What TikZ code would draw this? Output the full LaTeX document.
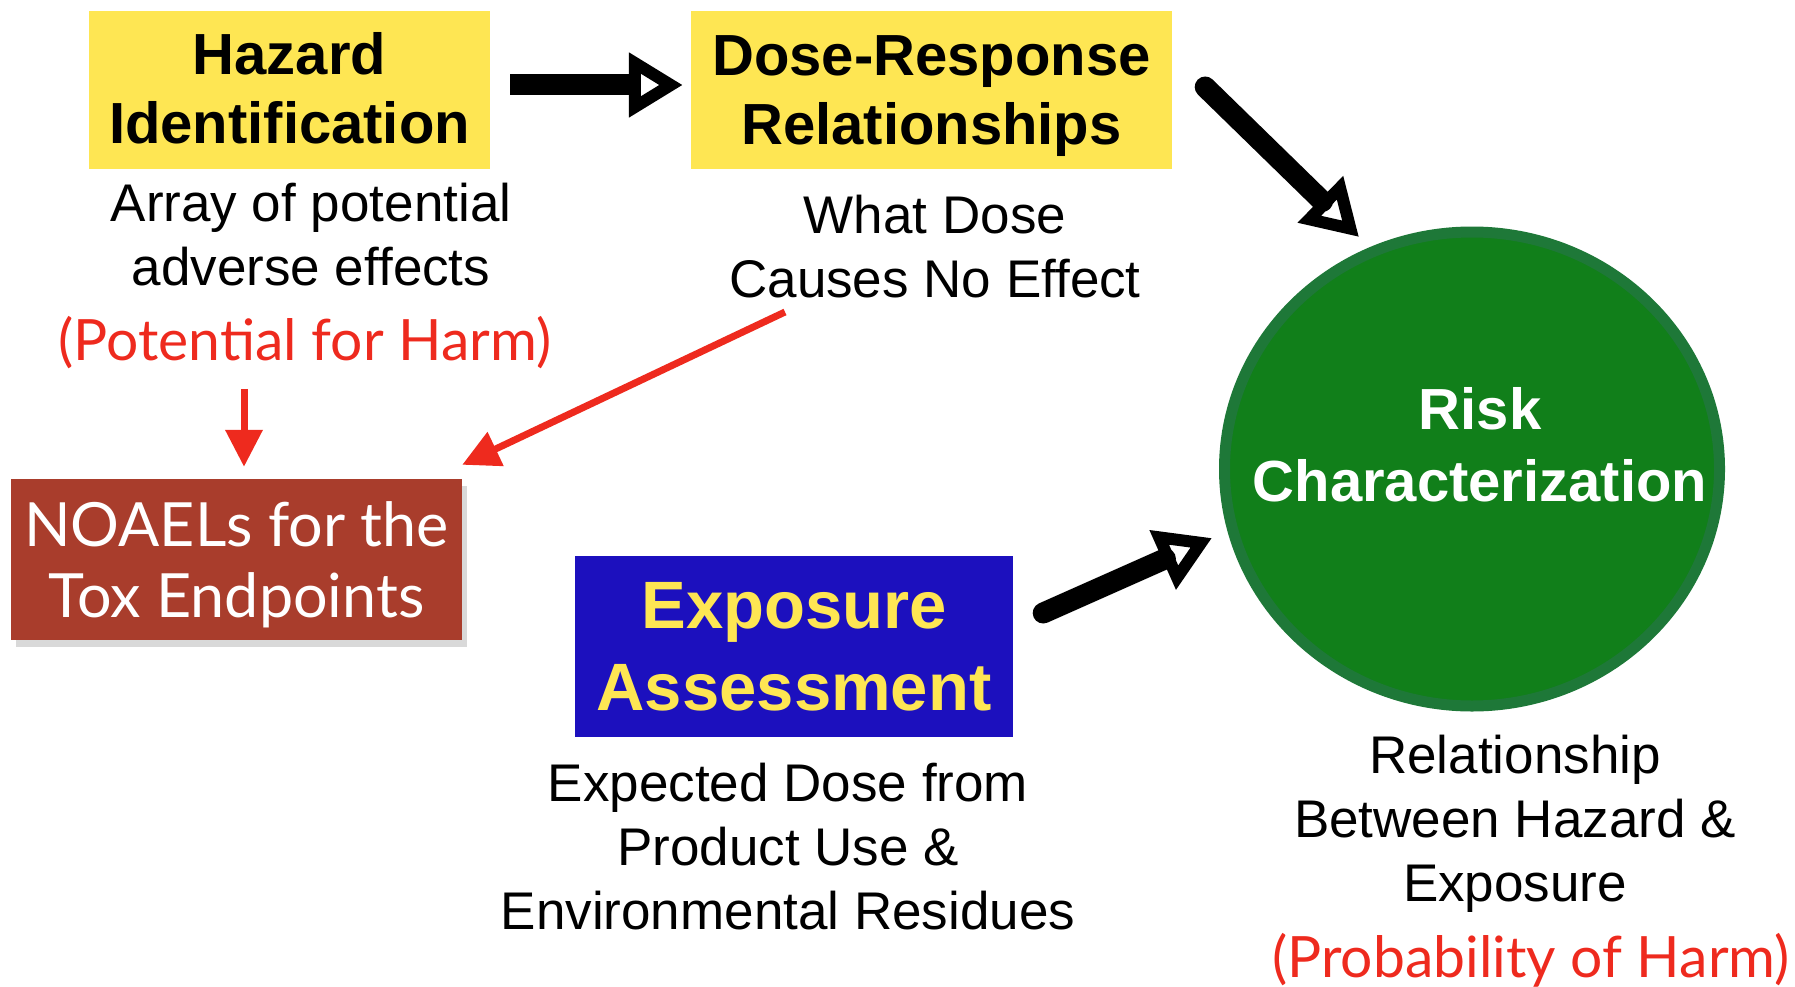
\documentclass[tikz,border=0pt]{standalone}
\usepackage{fontspec}
\setmainfont{Liberation Sans}
\newfontfamily\gill{Lato}
\usetikzlibrary{arrows.meta,calc,shadows,shapes.geometric}
\definecolor{hzyellow}{HTML}{FEE653}
\definecolor{expblue}{HTML}{1C10BE}
\definecolor{brick}{HTML}{A93D2C}
\definecolor{riskgreen}{HTML}{117F1A}
\definecolor{riskedge}{HTML}{1E7838}
\definecolor{harmred}{HTML}{EE2A1E}
\tikzset{
  titlebox/.style={fill=hzyellow, inner sep=0pt},
  titletext/.style={inner sep=0pt, align=center, font=\bfseries\fontsize{58}{69}\selectfont},
  subtext/.style={align=center, inner sep=0pt, font=\fontsize{53}{64}\selectfont},
  redtext/.style={align=center, inner sep=0pt, text=harmred, font=\gill\fontsize{57}{64}\selectfont},
  bigarrow/.style={line width=21pt, -{Triangle[open, length=54pt, width=62pt, line width=12pt]}},
  redarrow/.style={draw=harmred, line width=7pt, -{Triangle[length=37pt, width=36pt, fill=harmred]}},
}
\begin{document}
\begin{tikzpicture}[x=1pt, y=-1pt]
\useasboundingbox (0,0) rectangle (1795,987);
% boxes
\node[titlebox, minimum width=401pt, minimum height=158pt] (haz) at (289.5,90) {};
\node[titletext] (hazt) at (289.5,88) {Hazard\\Identification};
\node[titlebox, minimum width=481pt, minimum height=158pt] (dose) at (931.5,90) {};
\node[titletext] (doset) at (931.5,96) {Dose-Response\\Relationships};
\node[fill=brick, minimum width=451pt, minimum height=161pt, inner sep=0pt,
      drop shadow={shadow xshift=5pt, shadow yshift=-7pt, opacity=0.3}] (noael) at (236.5,559.5) {};
\node[align=center, inner sep=0pt, text=white, font=\gill\fontsize{61}{71}\selectfont] (noaelt) at (236.5,565) {NOAELs for the\\Tox Endpoints};
\node[fill=expblue, minimum width=438pt, minimum height=181pt, inner sep=0pt, align=center, text=hzyellow,
      font=\bfseries\fontsize{67}{82}\selectfont] (expo) at (794,646.5) {Exposure\\Assessment};
\node[ellipse, fill=riskgreen, draw=riskedge, line width=11pt, minimum width=495pt, minimum height=474pt,
      inner sep=0pt] (risk) at (1472,469) {};
\node[align=center, inner sep=0pt, text=white, font=\bfseries\fontsize{58}{72}\selectfont] (risktext) at (1480,445) {Risk\\Characterization};
% descriptive texts
\node[subtext] (hazsub) at (311,234.5) {Array of potential\\adverse effects};
\node[redtext] (pot) at (305,343) {(Potential for Harm)};
\node[subtext] (dosesub) at (935,247) {What Dose\\Causes No Effect};
\node[subtext] (exposub) at (788,847) {Expected Dose from\\Product Use \&\\Environmental Residues};
\node[subtext] (risksub) at (1515,824) {Relationship\\Between Hazard \&\\Exposure};
\node[redtext] (prob) at (1531,960) {(Probability of Harm)};
% connectors
\draw[bigarrow, line cap=butt] ($(haz.east)+(20,-5)$) -- ($(dose.west)+(-8,-5)$);
\draw[bigarrow, line cap=round] ($(dose.east)+(33,-3)$) -- ($(risk.center)+(-113,-232)$);
\draw[bigarrow, line cap=round] ($(expo.east)+(30,-33.5)$) -- ($(risk.center)+(-260,69)$);
\draw[redarrow] ($(noael.north)+(7.5,-90)$) -- ($(noael.north)+(7.5,-12)$);
\draw[redarrow] ($(dosesub.center)+(-150,65)$) -- ($(noael.north east)+(0,-14)$);
\end{tikzpicture}
\end{document}
